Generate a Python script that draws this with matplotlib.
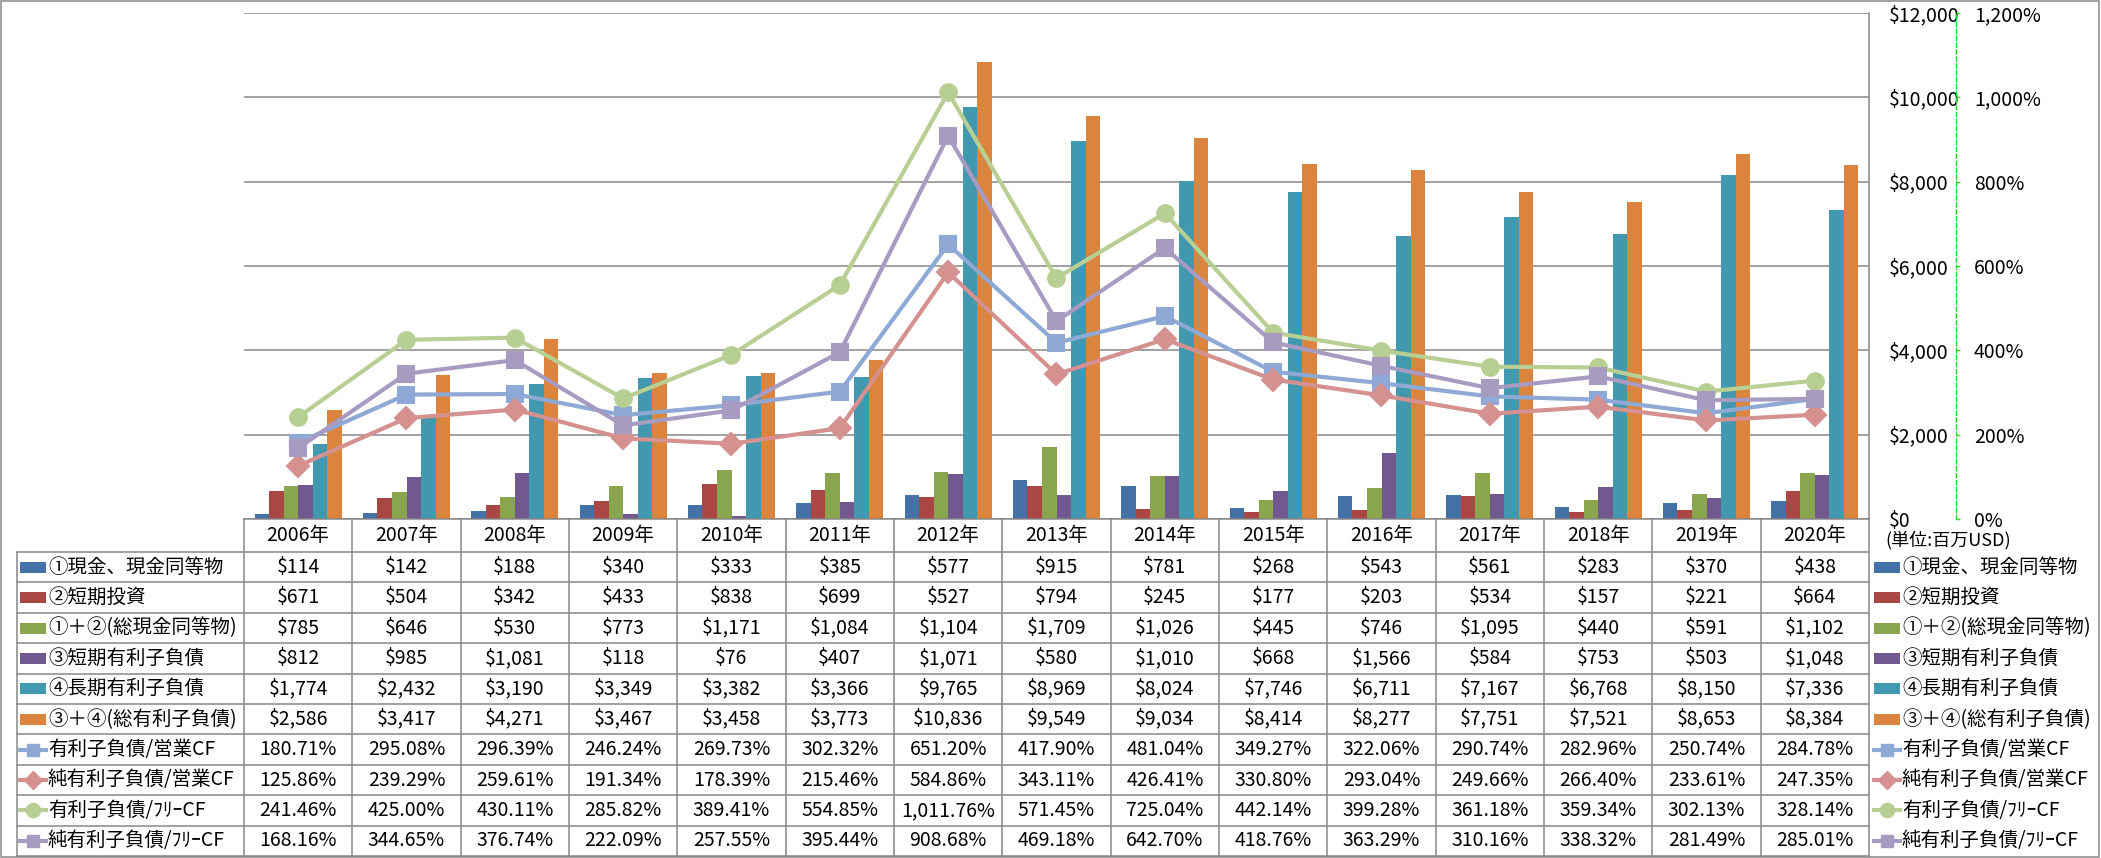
import matplotlib
matplotlib.use("Agg")
import matplotlib.pyplot as plt
from matplotlib.lines import Line2D
from matplotlib.patches import Rectangle
from matplotlib.ticker import FuncFormatter
import matplotlib.transforms as mtransforms
import numpy as np

plt.rcParams['font.family'] = ['Noto Sans CJK JP', 'DejaVu Sans']

years = ["2006年", "2007年", "2008年", "2009年", "2010年", "2011年", "2012年", "2013年",
         "2014年", "2015年", "2016年", "2017年", "2018年", "2019年", "2020年"]

cash = [114, 142, 188, 340, 333, 385, 577, 915, 781, 268, 543, 561, 283, 370, 438]
st_invest = [671, 504, 342, 433, 838, 699, 527, 794, 245, 177, 203, 534, 157, 221, 664]
total_cash = [785, 646, 530, 773, 1171, 1084, 1104, 1709, 1026, 445, 746, 1095, 440, 591, 1102]
st_debt = [812, 985, 1081, 118, 76, 407, 1071, 580, 1010, 668, 1566, 584, 753, 503, 1048]
lt_debt = [1774, 2432, 3190, 3349, 3382, 3366, 9765, 8969, 8024, 7746, 6711, 7167, 6768, 8150, 7336]
total_debt = [2586, 3417, 4271, 3467, 3458, 3773, 10836, 9549, 9034, 8414, 8277, 7751, 7521, 8653, 8384]

debt_ocf = [180.71, 295.08, 296.39, 246.24, 269.73, 302.32, 651.20, 417.90, 481.04, 349.27,
            322.06, 290.74, 282.96, 250.74, 284.78]
netdebt_ocf = [125.86, 239.29, 259.61, 191.34, 178.39, 215.46, 584.86, 343.11, 426.41, 330.80,
               293.04, 249.66, 266.40, 233.61, 247.35]
debt_fcf = [241.46, 425.00, 430.11, 285.82, 389.41, 554.85, 1011.76, 571.45, 725.04, 442.14,
            399.28, 361.18, 359.34, 302.13, 328.14]
netdebt_fcf = [168.16, 344.65, 376.74, 222.09, 257.55, 395.44, 908.68, 469.18, 642.70, 418.76,
               363.29, 310.16, 338.32, 281.49, 285.01]

bar_names = ["①現金、現金同等物", "②短期投資", "①＋②(総現金同等物)", "③短期有利子負債",
             "④長期有利子負債", "③＋④(総有利子負債)"]
line_names = ["有利子負債/営業CF", "純有利子負債/営業CF", "有利子負債/ﾌﾘｰCF", "純有利子負債/ﾌﾘｰCF"]

bar_series = [cash, st_invest, total_cash, st_debt, lt_debt, total_debt]
line_series = [debt_ocf, netdebt_ocf, debt_fcf, netdebt_fcf]

bar_colors = ['#4471A6', '#AA4643', '#89A54E', '#71588F', '#4198AF', '#DB843D']
line_colors = ['#8EA9D5', '#D4918F', '#B8CF94', '#A89BC2']
line_markers = ['s', 'D', 'o', 's']
line_msize = [11, 11, 12, 11]

W, H = 2101, 858
FS = 14
GRID = '#878787'

fig = plt.figure(figsize=(W / 100, H / 100), dpi=100)

def fx(px):
    return px / W

def fy(py):
    return 1 - py / H

L, R, T, B = 244, 1869, 13, 519
ax = fig.add_axes([fx(L), fy(B), fx(R) - fx(L), fy(T) - fy(B)])
n = len(years)
x = np.arange(n)
ax.set_xlim(-0.5, n - 0.5)
ax.set_ylim(0, 12000)

bw = 0.134
for i, (vals, col) in enumerate(zip(bar_series, bar_colors)):
    ax.bar(x + (i - 2.5) * bw, vals, width=bw, color=col, zorder=2)

ax2 = ax.twinx()

ax.set_yticks(np.arange(0, 12001, 2000))
ax.yaxis.set_major_formatter(FuncFormatter(lambda v, p: f"${int(v):,}"))
ax.yaxis.tick_right()
ax.yaxis.set_label_position('right')
ax.tick_params(axis='y', which='both', left=False, right=True, labelleft=False, labelright=True,
               length=0, pad=14, labelsize=FS)
ax.set_xticks([])
ax.grid(axis='y', color=GRID, lw=1.1, zorder=0)
ax.set_axisbelow(True)
for s in ['left', 'top']:
    ax.spines[s].set_visible(False)
ax.spines['right'].set_color(GRID)
ax.spines['bottom'].set_color(GRID)
ax.spines['right'].set_linewidth(1.1)
ax.spines['bottom'].set_linewidth(1.1)

ax2.set_ylim(0, 1200)
for vals, col, mk, ms in zip(line_series, line_colors, line_markers, line_msize):
    ax2.plot(x, vals, color=col, lw=3, marker=mk, markersize=ms, markerfacecolor=col,
             markeredgecolor=col, markeredgewidth=1.5, solid_joinstyle='round', zorder=3)
ax2.set_yticks(np.arange(0, 1201, 200))
ax2.yaxis.set_major_formatter(FuncFormatter(lambda v, p: f"{int(v):,}%"))
for s in ['left', 'top', 'bottom']:
    ax2.spines[s].set_visible(False)
ax2.spines['right'].set_position(('outward', (1956 - R) * 0.72))
ax2.spines['right'].set_color('#22DD22')
ax2.spines['right'].set_linestyle((0, (3, 2)))
ax2.spines['right'].set_linewidth(1.0)
ax2.tick_params(axis='y', length=3, width=1, color='#22DD22', pad=10, labelsize=FS)

# ---- data table ----
bt = mtransforms.blended_transform_factory(ax.transData, fig.transFigure)
row_top = 552
row_h = 30.4
nrows = 10
tbl_left = 17
bottom = row_top + nrows * row_h

for i, yl in enumerate(years):
    fig.text(i, fy((B + row_top) / 2), yl, transform=bt, ha='center', va='center', fontsize=FS)

for k in range(n + 1):
    fig.add_artist(Line2D([k - 0.5, k - 0.5], [fy(B), fy(bottom)], transform=bt,
                          color=GRID, lw=1.1))
for k in range(nrows + 1):
    yy = fy(row_top + k * row_h)
    fig.add_artist(Line2D([fx(tbl_left), fx(R)], [yy, yy], transform=fig.transFigure,
                          color=GRID, lw=1.1))
fig.add_artist(Line2D([fx(tbl_left), fx(tbl_left)], [fy(row_top), fy(bottom)],
                      transform=fig.transFigure, color=GRID, lw=1.1))

all_names = bar_names + line_names
all_vals = bar_series + line_series


def draw_key(k, x0, x1, yc):
    if k < 6:
        fig.add_artist(Rectangle((fx(x0), fy(yc + 5.5)), fx(x1) - fx(x0), 11 / H,
                                 transform=fig.transFigure, color=bar_colors[k], lw=0))
    else:
        j = k - 6
        xm = (x0 + x1) / 2
        fig.add_artist(Line2D([fx(x0), fx(xm), fx(x1)], [fy(yc)] * 3, transform=fig.transFigure,
                              color=line_colors[j], lw=3, marker=line_markers[j],
                              markersize=line_msize[j] * 0.85, markevery=[1],
                              markerfacecolor=line_colors[j], markeredgecolor=line_colors[j]))


for r, (name, vals) in enumerate(zip(all_names, all_vals)):
    yc = row_top + r * row_h + row_h / 2
    draw_key(r, 20, 46, yc)
    fig.text(fx(48), fy(yc), name, ha='left', va='center', fontsize=FS)
    draw_key(r, 1874, 1900, yc)
    fig.text(fx(1902), fy(yc), name, ha='left', va='center', fontsize=FS)
    for i, v in enumerate(vals):
        if r < 6:
            s = f"${v:,}"
        else:
            s = f"{v:,.2f}%"
        fig.text(i, fy(yc), s, transform=bt, ha='center', va='center', fontsize=FS)

fig.text(fx(1885), fy(540), "(単位:百万USD)", ha='left', va='center', fontsize=13)

fig.add_artist(Rectangle((fx(1), fy(857)), fx(2099) - fx(1), fy(1) - fy(857),
                         transform=fig.transFigure, fill=False, edgecolor=GRID, lw=1.1))

fig.savefig("out.png", dpi=100)
